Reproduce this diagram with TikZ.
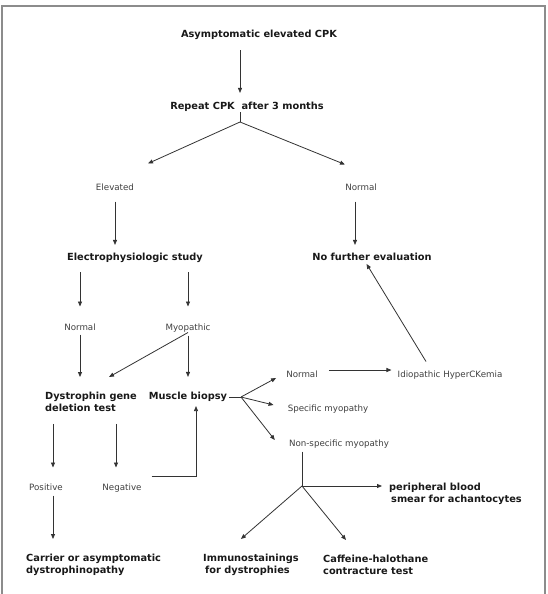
\documentclass[tikz,border=0pt]{standalone}
\usepackage{fontspec}
\setmainfont{DejaVu Sans}
\usetikzlibrary{arrows.meta}

\tikzset{
  hd/.style={font=\fontsize{9.8}{12}\selectfont\bfseries, text=black!90, inner sep=0pt},
  hdone/.style={hd, text height=7.4pt, text depth=2.3pt},
  hdtwo/.style={hd, align=left, anchor=west},
  lb/.style={font=\fontsize{8.7}{10.5}\selectfont, text=black!75, inner sep=0pt, text height=6.6pt, text depth=2pt},
  ar/.style={draw=black!80, line width=0.8pt, -{Triangle[length=5pt,width=4pt]}},
  ln/.style={draw=black!80, line width=0.8pt},
}

\begin{document}
\begin{tikzpicture}[x=1pt,y=-1pt]
  \fill[white] (0,0) rectangle (547,594);
  \useasboundingbox (0,0) rectangle (547,594);
  \draw[black!45, line width=1.2pt] (2,600) -- (2,6) -- (545,6) -- (545,600);

  \node[hdone] (asym) at (259,35) {Asymptomatic elevated CPK};
  \node[hdone] (rep) at (247,107) {Repeat CPK\ \ after 3 months};
  \coordinate (b1) at (240,122);
  \node[lb] (elev) at (115,188) {Elevated};
  \node[lb] (norm1) at (361,188) {Normal};

  \node[hdone] (electro) at (135,258) {Electrophysiologic study};
  \node[hdone] (nofurther) at (372,258) {No further evaluation};
  \node[lb] (norm2) at (80,328) {Normal};
  \node[lb] (myo) at (188,328) {Myopathic};

  \node[hdtwo] (dystro) at (45,402) {Dystrophin gene\\deletion test};
  \node[hdone] (biopsy) at (188,397) {Muscle biopsy};
  \coordinate (b2) at (241,397);
  \node[lb] (norm3) at (302,375) {Normal};
  \node[lb] (idio) at (450,375) {Idiopathic HyperCKemia};
  \node[lb] (spec) at (328,409) {Specific myopathy};
  \node[lb] (nonspec) at (339,444) {Non-specific myopathy};

  \node[lb] (pos) at (46,488) {Positive};
  \node[lb] (neg) at (122,488) {Negative};
  \coordinate (b3) at (302,486);
  \node[hdtwo] (periph) at (389,494) {peripheral blood\\\hspace*{2pt}smear for achantocytes};
  \node[hdtwo] (carrier) at (26,565) {Carrier or asymptomatic\\dystrophinopathy};
  \node[hdtwo] (immuno) at (203,565) {Immunostainings\\\hspace*{2pt}for dystrophies};
  \node[hdtwo] (caffeine) at (323,565) {Caffeine-halothane\\contracture test};

  % top part
  \draw[ar, shorten <=10pt, shorten >=9pt] (asym.south -| b1) -- (rep.north -| b1);
  \draw[ln] (rep.south -| b1) -- (b1);
  \draw[ar] (b1) -- ([xshift=33pt,yshift=20pt]elev.north);
  \draw[ar] (b1) -- ([xshift=-16pt,yshift=19pt]norm1.north);
  \draw[ar, shorten <=9pt, shorten >=8pt] (elev.south) -- (elev.south |- electro.north);
  \draw[ar, shorten <=9pt, shorten >=8pt] ([xshift=-6pt]norm1.south) -- ([xshift=-6pt]norm1.south |- nofurther.north);

  % electrophysiology
  \draw[ar, shorten <=9pt, shorten >=17pt] (electro.south -| norm2) -- (norm2.north);
  \draw[ar, shorten <=9pt, shorten >=17pt] (electro.south -| myo) -- (myo.north);
  \draw[ar, shorten <=2pt, shorten >=15pt] (norm2.south) -- (norm2.south |- dystro.north);
  \draw[ar] (myo.south) -- ([xshift=18pt,yshift=15pt]dystro.north);
  \draw[ar, shorten <=3pt, shorten >=15pt] (myo.south) -- (biopsy.north);

  % biopsy
  \draw[ln, shorten <=2pt] (biopsy.east) -- (b2);
  \draw[ar] (b2) -- ([xshift=-10pt,yshift=-3pt]norm3.west);
  \draw[ar] (b2) -- ([xshift=-14pt,yshift=4pt]spec.west);
  \draw[ar] (b2) -- ([xshift=-14pt,yshift=4pt]nonspec.west);
  \draw[ar, shorten <=11pt, shorten >=6pt] ([yshift=5pt]norm3.east) -- ([yshift=5pt]idio.west);
  \draw[ar, shorten >=1pt] ([xshift=-24pt,yshift=9pt]idio.north) -- ([xshift=-6pt]nofurther.south);

  % gene test
  \draw[ar, shorten <=12pt, shorten >=16pt] ([xshift=7pt]pos.north |- dystro.south) -- ([xshift=7pt]pos.north);
  \draw[ar, shorten <=12pt, shorten >=16pt] ([xshift=-6pt]neg.north |- dystro.south) -- ([xshift=-6pt]neg.north);
  \draw[ar, shorten >=4pt] ([xshift=10pt,yshift=12pt]neg.east) -| ([xshift=8pt]biopsy.south);
  \draw[ar, shorten <=3pt, shorten >=15pt] ([xshift=7pt]pos.south) -- ([xshift=7pt]pos.south |- carrier.north);

  % non-specific myopathy
  \draw[ln, shorten <=3pt] (nonspec.south -| b3) -- (b3);
  \draw[ar, shorten >=7pt] (b3) -- (b3 -| periph.west);
  \draw[ar] (b3) -- ([xshift=-10pt,yshift=15pt]immuno.north);
  \draw[ar] (b3) -- ([xshift=23pt,yshift=15pt]caffeine.north west);
\end{tikzpicture}
\end{document}
